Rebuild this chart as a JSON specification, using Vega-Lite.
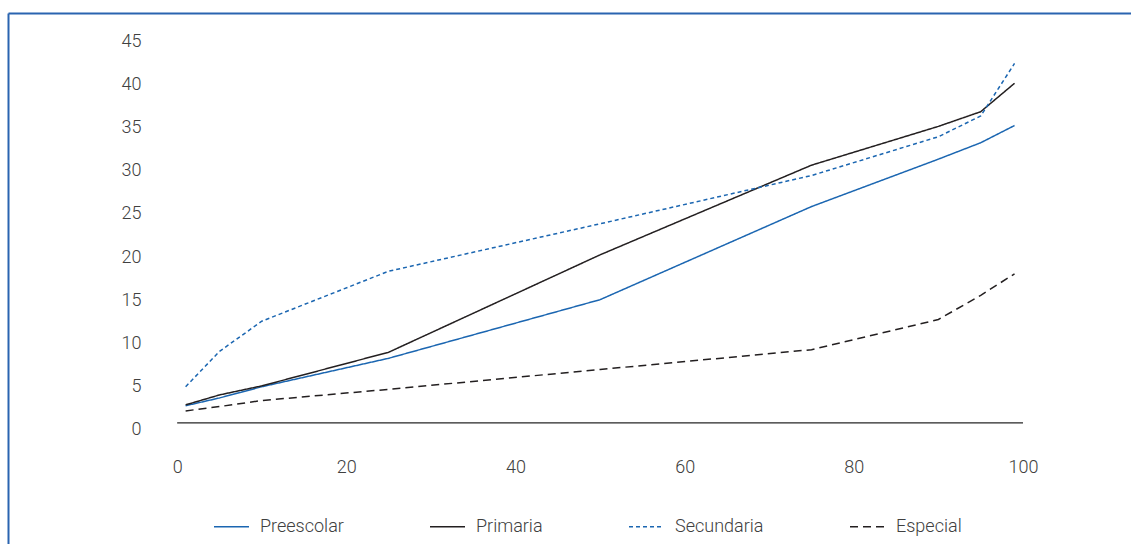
{
  "$schema": "https://vega.github.io/schema/vega-lite/v6.json",
  "width": 1123,
  "height": 531,
  "autosize": {"type": "none"},
  "padding": {"left": 8, "top": 13, "right": 0, "bottom": 0},
  "background": "white",
  "config": {
    "view": {"stroke": null},
    "axis": {"grid": false, "labelFont": "Roboto", "labelFontWeight": 300, "labelFontSize": 18, "labelColor": "#404040", "title": null},
    "legend": {
      "orient": "none", "legendX": 205, "legendY": 495, "direction": "horizontal",
      "columnPadding": 83, "padding": 0, "title": null,
      "symbolType": "stroke", "symbolSize": 1225, "symbolStrokeWidth": 1.5,
      "labelOffset": 10, "labelFont": "Roboto", "labelFontWeight": 300, "labelFontSize": 18, "labelColor": "#404040"
    }
  },
  "resolve": {"axis": {"x": "independent", "y": "independent"}},
  "layer": [
    {
      "data": {"values": [{}]},
      "mark": {"type": "rule", "color": "#262626", "strokeWidth": 1.3},
      "encoding": {
        "x": {"datum": 0, "type": "quantitative",
          "scale": {"domain": [-20, 112.77], "nice": false, "zero": false},
          "axis": {"orient": "top", "labels": false, "ticks": false, "domain": true, "domainColor": "#2a64b0", "domainWidth": 2, "title": null}},
        "x2": {"datum": 100},
        "y": {"datum": 0, "type": "quantitative",
          "scale": {"domain": [-14.04, 47.55], "nice": false, "zero": false},
          "axis": {"orient": "left", "labels": false, "ticks": false, "domain": true, "domainColor": "#2a64b0", "domainWidth": 2, "title": null}}
      }
    },
    {
      "data": {"values": [
        {"p": 1, "v": 2.0, "s": "Preescolar"}, {"p": 5, "v": 2.9, "s": "Preescolar"}, {"p": 10, "v": 4.2, "s": "Preescolar"},
        {"p": 25, "v": 7.5, "s": "Preescolar"}, {"p": 50, "v": 14.3, "s": "Preescolar"}, {"p": 75, "v": 25.1, "s": "Preescolar"},
        {"p": 90, "v": 30.6, "s": "Preescolar"}, {"p": 95, "v": 32.5, "s": "Preescolar"}, {"p": 99, "v": 34.5, "s": "Preescolar"},
        {"p": 1, "v": 2.1, "s": "Primaria"}, {"p": 5, "v": 3.25, "s": "Primaria"}, {"p": 10, "v": 4.3, "s": "Primaria"},
        {"p": 25, "v": 8.2, "s": "Primaria"}, {"p": 50, "v": 19.5, "s": "Primaria"}, {"p": 75, "v": 29.9, "s": "Primaria"},
        {"p": 90, "v": 34.4, "s": "Primaria"}, {"p": 95, "v": 36.1, "s": "Primaria"}, {"p": 99, "v": 39.4, "s": "Primaria"},
        {"p": 1, "v": 4.2, "s": "Secundaria"}, {"p": 5, "v": 8.3, "s": "Secundaria"}, {"p": 10, "v": 11.8, "s": "Secundaria"},
        {"p": 25, "v": 17.6, "s": "Secundaria"}, {"p": 50, "v": 23.1, "s": "Secundaria"}, {"p": 75, "v": 28.7, "s": "Secundaria"},
        {"p": 90, "v": 33.2, "s": "Secundaria"}, {"p": 95, "v": 35.6, "s": "Secundaria"}, {"p": 99, "v": 41.7, "s": "Secundaria"},
        {"p": 1, "v": 1.4, "s": "Especial"}, {"p": 5, "v": 1.9, "s": "Especial"}, {"p": 10, "v": 2.6, "s": "Especial"},
        {"p": 25, "v": 3.9, "s": "Especial"}, {"p": 50, "v": 6.2, "s": "Especial"}, {"p": 75, "v": 8.5, "s": "Especial"},
        {"p": 90, "v": 12.0, "s": "Especial"}, {"p": 95, "v": 14.8, "s": "Especial"}, {"p": 99, "v": 17.3, "s": "Especial"}
      ]},
      "mark": {"type": "line", "strokeWidth": 1.5},
      "encoding": {
        "x": {"field": "p", "type": "quantitative",
          "scale": {"domain": [-20, 112.77], "nice": false, "zero": false},
          "axis": {"orient": "bottom", "offset": -121, "values": [0, 20, 40, 60, 80, 100], "domain": false, "ticks": false, "tickSize": 0, "labelPadding": 35, "title": null}},
        "y": {"field": "v", "type": "quantitative",
          "scale": {"domain": [-14.04, 47.55], "nice": false, "zero": false},
          "axis": {"orient": "left", "offset": -137, "values": [0, 5, 10, 15, 20, 25, 30, 35, 40, 45], "domain": false, "ticks": false, "tickSize": 0, "labelPadding": 4, "labelOffset": 6.5, "title": null}},
        "color": {"field": "s", "type": "nominal",
          "scale": {"domain": ["Preescolar", "Primaria", "Secundaria", "Especial"], "range": ["#1b66b1", "#231f20", "#1b66b1", "#231f20"]}},
        "strokeDash": {"field": "s", "type": "nominal",
          "scale": {"domain": ["Preescolar", "Primaria", "Secundaria", "Especial"], "range": [[1, 0], [1, 0], [4, 3], [8, 5]]}},
        "order": {"field": "p", "type": "quantitative"}
      }
    }
  ]
}
